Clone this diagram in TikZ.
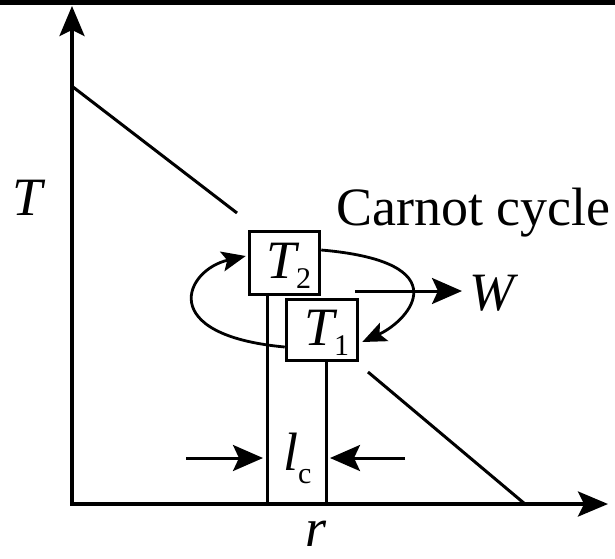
\documentclass[tikz,border=0pt]{standalone}
\usepackage{fontspec}
\setmainfont{Liberation Serif}
\usetikzlibrary{arrows.meta}
\begin{document}
\begin{tikzpicture}[x=1pt,y=-1pt,
  big/.style={font=\fontsize{54}{60}\selectfont, inner sep=0pt, anchor=base west},
  axisline/.style={line width=3.5pt, {Stealth[length=30pt,width=25pt,inset=6pt]}-{Stealth[length=30pt,width=25pt,inset=6pt]}},
  plainline/.style={line width=3pt},
  cyc/.style={line width=2.8pt, -{Stealth[length=24pt,width=20pt,inset=5pt]}},
  boxn/.style={draw, line width=3.5pt, fill=white, inner sep=0pt},
  ptr/.style={line width=3pt, -{Stealth[length=30pt,width=26pt,inset=6pt]}}
]
\useasboundingbox (0,0) rectangle (615,558);
\fill[black] (0,0) rectangle (615,5);
\newcommand{\subs}[1]{\raisebox{-10pt}{\fontsize{30}{30}\selectfont\upshape #1}}
% axes
\coordinate (ytop) at (72,6);
\coordinate (O) at (72,504);
\coordinate (xend) at (608,504);
\draw[axisline] (ytop) -- (O) -- (xend);
% diagonal lines
\coordinate (d1a) at (73,87);
\coordinate (d1b) at (237,213);
\coordinate (d2a) at (368,372);
\coordinate (d2b) at (525,504);
\draw[plainline] (d1a) -- (d1b);
\draw[plainline] (d2a) -- (d2b);
% vertical lines
\coordinate (v1) at (267,504);
\coordinate (v2) at (326,504);
% boxes
\node[boxn, minimum width=70pt, minimum height=63pt] (b2) at (284.5,263) {};
\draw[plainline] (v1 |- b2.south) -- (v1);
\node[boxn, minimum width=71pt, minimum height=61pt] (b1) at (322,330) {};
\draw[plainline] (v2 |- b1.south) -- (v2);
\node[big] (t2) at (266,278) {\itshape T\subs{2}};
\node[big] (t1) at (304,345) {\itshape T\subs{1}};
% cycle
\draw[cyc] ([yshift=13pt]b2.east) .. controls (460,262) and (410,320) .. ([xshift=3pt,yshift=-12pt]b1.east);
\draw[cyc] ([yshift=-17pt]b1.west) .. controls (155,335) and (185,270) .. ([xshift=-2pt,yshift=7pt]b2.west);
% W
\node[big] (W) at (469,310) {\itshape W};
\coordinate (wstart) at (355,291);
\draw[ptr] (wstart) -- ([xshift=-7pt]W.west |- wstart);
% labels
\node[big] (T) at (12,215) {\itshape T};
\node[big] (carnot) at (336,225) {Carnot cycle};
\node[big] (r) at (305,546) {\itshape r};
\node[big] (lc) at (283,470) {\itshape l\raisebox{-13pt}{\fontsize{30}{30}\selectfont\upshape c}};
% lc arrows
\coordinate (la) at (186,458);
\coordinate (lb) at (405,458);
\draw[ptr] (la) -- ([xshift=-4pt]la -| v1);
\draw[ptr] (lb) -- ([xshift=4pt]lb -| v2);
\end{tikzpicture}
\end{document}
